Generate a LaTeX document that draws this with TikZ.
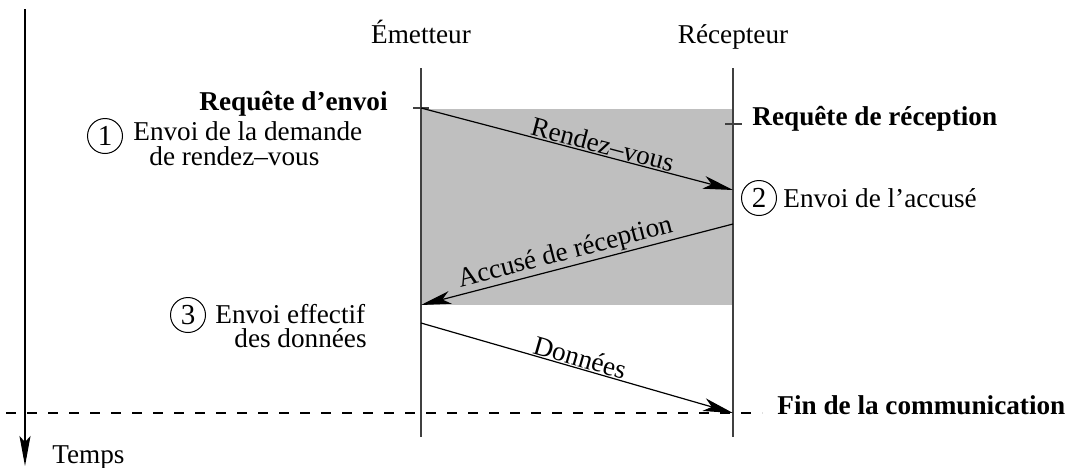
\documentclass[tikz,border=0pt]{standalone}
\usepackage{fontspec}
\setmainfont{Liberation Serif}
\usetikzlibrary{arrows.meta}
\begin{document}
\begin{tikzpicture}[x=0.5pt,y=-0.5pt,
  font=\fontsize{13.6}{16}\selectfont,
  life/.style={draw=black!75, line width=0.9pt},
  msg/.style={draw=black, line width=0.6pt, -{Stealth[length=15pt,width=6.5pt,inset=4pt]}},
  axis/.style={draw=black, line width=0.8pt, -{Stealth[length=15pt,width=5.5pt,inset=3pt]}},
  txt/.style={inner sep=0pt},
  lbl/.style={inner sep=0pt, sloped, above=0.5pt},
  num/.style={draw, circle, line width=0.5pt, minimum size=17.5pt, inner sep=0pt, font=\fontsize{14.5}{16}\selectfont},
  tickmark/.style={draw=black!75, line width=0.7pt},
  finline/.style={draw=black, line width=0.6pt, dash pattern=on 5pt off 5.5pt},
  zone/.style={fill=black!25, draw=none}
]
\useasboundingbox (0,0) rectangle (1068,467);

% shaded zone
\path[zone] (421,109) rectangle (733,305);

% time axis
\coordinate (t0) at (25,9);
\coordinate (t1) at (25,466);
\draw[axis] (t0) -- (t1);
\node[txt, anchor=base west] (temps) at (52,463) {Temps};

% end-of-communication dashed line
\coordinate (f0) at (6,413);
\coordinate (f1) at (762,413);
\draw[finline] (f0) -- (f1);

% lifelines
\coordinate (e0) at (421,68);
\coordinate (e1) at (421,437);
\coordinate (r0) at (733,68);
\coordinate (r1) at (733,437);
\draw[life] (e0) -- (e1);
\draw[life] (r0) -- (r1);
\node[txt, anchor=base] (emet) at (421,43) {Émetteur};
\node[txt, anchor=base] (recep) at (733,43) {Récepteur};

% ticks
\coordinate (ta) at (413,108);
\coordinate (tb) at (429,108);
\coordinate (tc) at (725,124);
\coordinate (td) at (742,124);
\draw[tickmark] (ta) -- (tb);
\draw[tickmark] (tc) -- (td);

% message points
\coordinate (m1s) at (421,108);
\coordinate (m1e) at (733,190);
\coordinate (m2s) at (733,224);
\coordinate (m2e) at (421,305);
\coordinate (m3s) at (421,323);
\coordinate (m3e) at (733,413);

\draw[msg] (m1s) -- (m1e);
\path (m1s) -- node[lbl, pos=0.574] (lrdv) {Rendez–vous} (m1e);
\draw[msg] (m2s) -- (m2e);
\path (m2e) -- node[lbl, pos=0.474] (lacc) {Accusé de réception} (m2s);
\draw[msg] (m3s) -- (m3e);
\path (m3s) -- node[lbl, pos=0.5] (ldon) {Données} (m3e);

% left annotations
\node[txt, anchor=base east, font=\fontsize{13.6}{16}\selectfont\bfseries] (reqenv) at (388,110) {Requête d’envoi};
\node[num] (n1) at (105,136) {1};
\node[txt, anchor=base west] (a1) at (133,140) {Envoi de la demande};
\node[txt, anchor=base west] (a1b) at (149,165) {de rendez–vous};

\node[num] (n3) at (188,315) {3};
\node[txt, anchor=base west] (a3) at (215,323) {Envoi effectif};
\node[txt, anchor=base east] (a3b) at (367,347) {des données};

% right annotations
\node[txt, anchor=base west, font=\fontsize{13.6}{16}\selectfont\bfseries] (reqrec) at (752,125) {Requête de réception};
\node[num] (n2) at (759,198) {2};
\node[txt, anchor=base west] (a2) at (783,207) {Envoi de l’accusé};
\node[txt, anchor=base west, font=\fontsize{13.6}{16}\selectfont\bfseries] (fin) at (777,414) {Fin de la communication};
\end{tikzpicture}
\end{document}
